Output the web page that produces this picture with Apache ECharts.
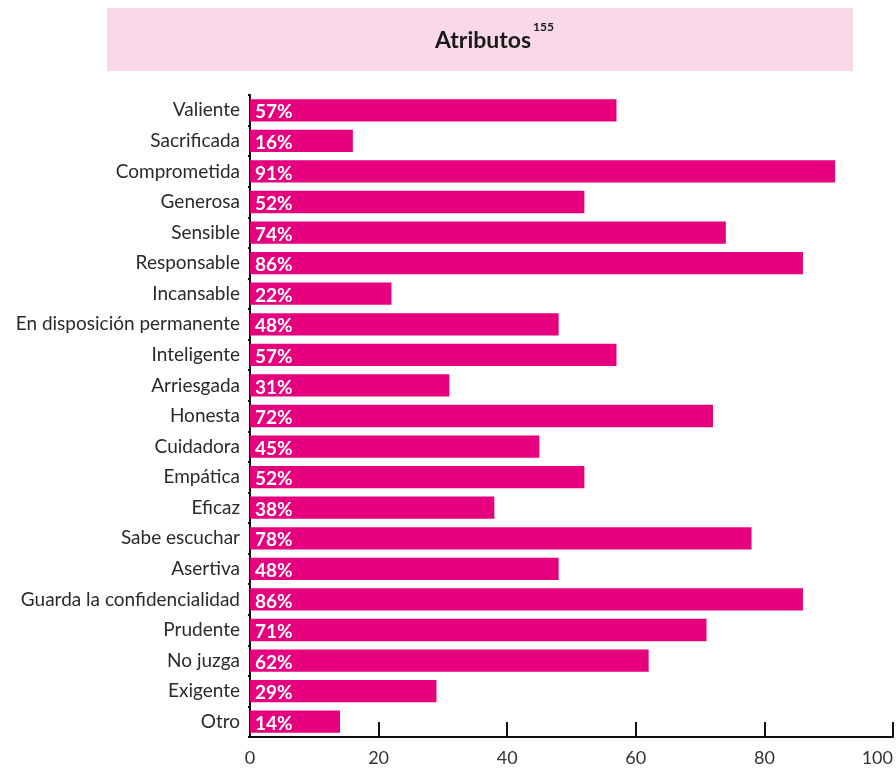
<!DOCTYPE html>
<html><head><meta charset="utf-8">
<script src="https://cdn.jsdelivr.net/npm/echarts@6/dist/echarts.min.js"></script>
<style>html,body{margin:0;padding:0;background:#fff}#c{width:896px;height:773px}</style>
</head><body><div id="c"></div>
<script>
const categories = ["Valiente","Sacrificada","Comprometida","Generosa","Sensible","Responsable","Incansable","En disposición permanente","Inteligente","Arriesgada","Honesta","Cuidadora","Empática","Eficaz","Sabe escuchar","Asertiva","Guarda la confidencialidad","Prudente","No juzga","Exigente","Otro"];
const values = [57,16,91,52,74,86,22,48,57,31,72,45,52,38,78,48,86,71,62,29,14];
const xTicks = [0,20,40,60,80,100];
const titleText = "Atributos";
const titleSup = "155";

const chart = echarts.init(document.getElementById('c'), null, {renderer:'canvas'});
const FONT = 'Lato';
chart.setOption({
  animation:false,
  backgroundColor:'#fff',
  graphic:[{type:'rect',left:107,top:8,shape:{width:746,height:63},style:{fill:'#F9D8E8'},z:0}],
  title:{
    text:'{t|'+titleText+'}{s|'+titleSup+'}',
    left:430, top:16,
    textStyle:{rich:{
      t:{fontFamily:FONT,fontWeight:'bold',fontSize:23,color:'#1a1a1a',padding:[8,0,0,0]},
      s:{fontFamily:FONT,fontSize:12,color:'#1a1a1a',verticalAlign:'top',padding:[0,0,14,2]}
    }}
  },
  grid:{left:250,right:3,top:95,bottom:36,containLabel:false},
  xAxis:{
    type:'value',min:0,max:100,interval:20,
    axisLine:{show:true,lineStyle:{color:'#111',width:2}},
    axisTick:{show:true,inside:true,length:15,lineStyle:{color:'#111',width:2}},
    splitLine:{show:false},
    axisLabel:{fontFamily:FONT,fontSize:18,color:'#333',margin:12,alignMaxLabel:'right',
      formatter:v=>xTicks.includes(v)?String(v):''}
  },
  yAxis:{
    type:'category',data:categories,inverse:true,
    axisLine:{show:true,lineStyle:{color:'#111',width:2}},
    axisTick:{show:true,length:2,lineStyle:{color:'#111',width:2}},
    axisLabel:{fontFamily:FONT,fontSize:19,color:'#2a2a2a',margin:10}
  },
  series:[{
    type:'bar',data:values,barCategoryGap:'27%',
    itemStyle:{color:'#E6007E'},
    label:{show:true,position:'insideLeft',offset:[0,2],formatter:'{c}%',
      fontFamily:FONT,fontWeight:'bold',fontSize:19,color:'#fff'}
  }]
});
</script></body></html>
